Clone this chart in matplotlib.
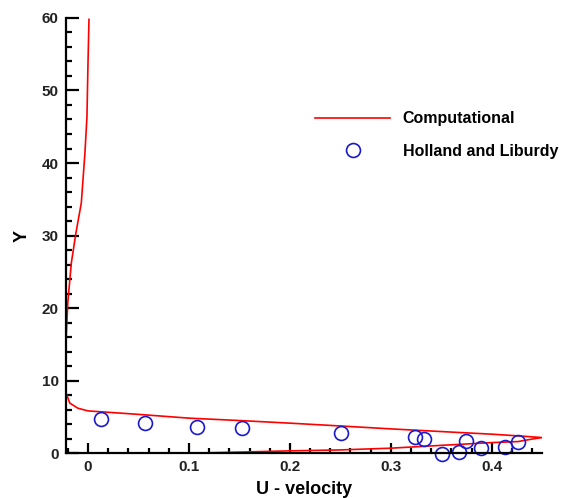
import matplotlib.pyplot as plt
from matplotlib.ticker import MultipleLocator, FuncFormatter

# computational profile (u, y), traced from the top down and back along the lower branch
comp_u = [0.001, 0.0, -0.001, -0.003, -0.0066, -0.012, -0.0165, -0.020, -0.022, -0.025,
          -0.025, -0.022, -0.018, -0.010, 0.0, 0.05, 0.1, 0.15, 0.2, 0.25, 0.3, 0.35,
          0.4, 0.43, 0.45, 0.44, 0.426, 0.4, 0.35, 0.3, 0.25, 0.2, 0.15, 0.11]
comp_y = [59.8, 53.6, 46.4, 41.4, 34.5, 30.3, 26.2, 20.7, 14.7, 12.0,
          9.5, 8.4, 6.9, 6.2, 5.83, 5.35, 4.83, 4.5, 4.14, 3.75, 3.35, 2.98,
          2.62, 2.35, 2.15, 1.95, 1.6, 1.46, 1.08, 0.69, 0.45, 0.32, 0.15, 0.03]

# Holland and Liburdy measurements
exp_u = [0.0133, 0.0563, 0.108, 0.153, 0.251, 0.324, 0.333, 0.351, 0.367, 0.374, 0.389, 0.413, 0.426]
exp_y = [4.73, 4.14, 3.67, 3.53, 2.84, 2.2, 1.97, -0.1, 0.22, 1.74, 0.69, 0.91, 1.52]

plt.rcParams["font.family"] = ["Liberation Sans", "DejaVu Sans"]
plt.rcParams["font.weight"] = "bold"

fig = plt.figure(figsize=(5.62, 4.98), dpi=100)
ax = fig.add_axes([0.117, 0.09, 0.848, 0.874])

ax.plot(comp_u, comp_y, color="red", linewidth=1.2, label="Computational", zorder=2)
ax.plot(exp_u, exp_y, "o", markersize=10, markerfacecolor="none",
        markeredgecolor="#1a1acc", markeredgewidth=1.2, label="Holland and Liburdy",
        clip_on=False, zorder=3)

ax.set_xlim(-0.022, 0.45)
ax.set_ylim(0, 60)

ax.spines["top"].set_visible(False)
ax.spines["right"].set_visible(False)
for s in ("left", "bottom"):
    ax.spines[s].set_linewidth(1.6)
    ax.spines[s].set_zorder(4)

ax.xaxis.set_major_locator(MultipleLocator(0.1))
ax.xaxis.set_minor_locator(MultipleLocator(0.02))
ax.yaxis.set_major_locator(MultipleLocator(10))
ax.yaxis.set_minor_locator(MultipleLocator(2))
ax.xaxis.set_major_formatter(FuncFormatter(lambda v, p: "0" if abs(v) < 1e-9 else f"{v:.1f}"))

ax.tick_params(which="both", direction="in", width=1.6, labelsize=11, colors="black")
ax.tick_params(axis="x", which="major", length=7, pad=5)
ax.tick_params(axis="x", which="minor", length=3.5)
ax.tick_params(axis="y", which="major", length=9, pad=5)
ax.tick_params(axis="y", which="minor", length=4.5)
for lab in ax.get_xticklabels() + ax.get_yticklabels():
    lab.set_fontweight("bold")
    lab.set_color("#222222")

ax.set_xlabel("U - velocity", fontsize=13, fontweight="bold", labelpad=5)
ax.set_ylabel("Y", fontsize=13, fontweight="bold", labelpad=8)

leg = ax.legend(loc="center left", bbox_to_anchor=(0.5605, 0.729),
                bbox_transform=fig.transFigure, frameon=False, fontsize=11.5,
                handlelength=4.7, handletextpad=0.8, labelspacing=1.1,
                borderpad=0, borderaxespad=0)

fig.savefig("out.png", dpi=100)
